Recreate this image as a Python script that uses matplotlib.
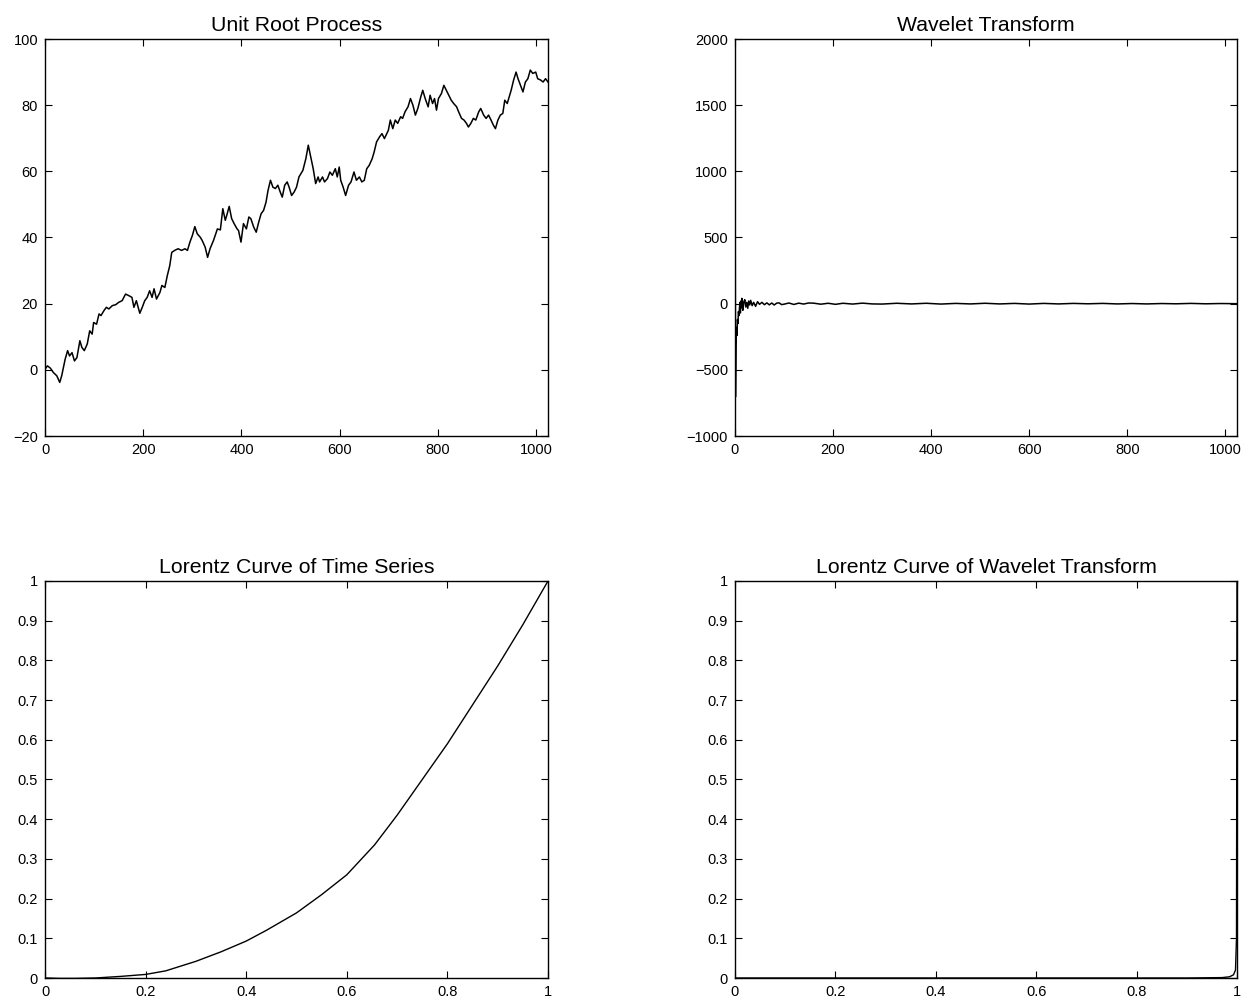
import matplotlib
matplotlib.use("Agg")
import matplotlib.pyplot as plt
from matplotlib.ticker import FormatStrFormatter, MultipleLocator

plt.rcParams['font.family'] = ['Liberation Sans', 'DejaVu Sans']

# Unit root process
ur_t = [0, 5, 11, 17, 24, 30, 34, 41, 46, 50, 55, 60, 65, 71, 75, 80, 86, 91, 96, 99,
        105, 110, 114, 120, 125, 130, 137, 144, 150, 157, 164, 171, 177, 181, 186, 193,
        198, 203, 208, 213, 218, 222, 227, 234, 238, 244, 249, 254, 258, 264, 271, 278,
        285, 290, 295, 300, 305, 310, 316, 320, 326, 331, 336, 343, 351, 357, 362, 367,
        370, 375, 380, 385, 391, 394, 399, 404, 410, 415, 419, 425, 430, 435, 440, 445,
        450, 454, 459, 464, 469, 474, 479, 483, 488, 493, 497, 502, 507, 512, 517, 525,
        531, 536, 541, 546, 551, 556, 559, 565, 569, 575, 580, 585, 591, 595, 599, 602,
        607, 612, 618, 623, 629, 634, 640, 645, 650, 655, 660, 666, 670, 675, 681, 686,
        691, 699, 703, 708, 713, 718, 724, 728, 733, 739, 744, 749, 754, 759, 765, 769,
        774, 780, 784, 789, 793, 797, 801, 807, 812, 817, 822, 827, 832, 838, 842, 848,
        853, 858, 862, 867, 872, 877, 883, 887, 893, 898, 903, 908, 913, 917, 922, 927,
        932, 936, 941, 945, 949, 954, 959, 963, 968, 973, 978, 983, 988, 993, 999, 1003,
        1009, 1014, 1019, 1024]
ur_val = [0.2, 1.2, 0.5, -0.8, -1.8, -3.8, -1.8, 3.2, 5.8, 4.2, 5.2, 2.7, 3.7, 8.8, 6.8, 5.8,
          7.8, 11.8, 10.8, 14.3, 13.8, 16.9, 16.4, 17.9, 18.9, 18.4, 19.4, 19.7, 20.4, 20.9,
          22.9, 22.4, 21.9, 18.9, 20.9, 17.1, 18.9, 20.9, 21.9, 23.9, 21.9, 24.5, 21.4, 23.4,
          25.5, 24.9, 28.5, 31.5, 35.5, 36.1, 36.6, 36.1, 36.6, 36.1, 38.6, 40.6, 43.3, 41.1,
          40.1, 39.1, 37.1, 34.0, 36.6, 39.1, 42.6, 42.3, 48.7, 45.2, 46.7, 49.4, 45.7, 44.2,
          42.6, 42.1, 38.6, 44.2, 42.6, 46.2, 45.7, 43.1, 41.6, 44.6, 47.2, 48.2, 50.7, 54.2,
          57.3, 55.2, 54.8, 55.8, 53.7, 52.2, 55.8, 56.8, 55.2, 52.7, 53.7, 55.2, 58.3, 60.3,
          63.8, 67.9, 64.3, 60.8, 56.3, 58.3, 56.8, 58.3, 56.8, 57.8, 59.8, 58.8, 60.8, 58.3,
          61.3, 57.3, 55.2, 52.7, 55.8, 56.8, 59.8, 57.3, 58.3, 56.8, 57.3, 60.8, 61.8, 63.8,
          65.8, 68.9, 70.4, 71.4, 69.9, 72.4, 75.5, 72.9, 75.5, 74.5, 76.5, 76.0, 78.0, 79.5,
          82.0, 80.0, 77.0, 79.0, 82.5, 84.5, 82.0, 79.5, 83.0, 80.5, 82.0, 78.5, 82.0, 83.5,
          86.0, 84.5, 83.0, 81.5, 80.5, 79.5, 78.0, 76.0, 75.5, 74.5, 73.4, 74.5, 76.0, 75.5,
          78.0, 79.0, 77.0, 76.0, 77.0, 75.5, 73.9, 72.9, 75.5, 77.0, 77.5, 81.5, 80.5, 82.5,
          84.5, 87.6, 90.0, 88.0, 86.0, 84.0, 87.0, 88.0, 90.6, 89.6, 90.0, 88.0, 87.6, 87.0,
          88.0, 87.0]

# Wavelet transform coefficients (sparse reading)
wt_idx = [0, 1, 2, 3, 4, 5, 6, 7, 8, 9, 10, 11, 12, 13, 14, 15, 16, 18, 20, 22, 24, 26,
          28, 30, 32, 35, 38, 42, 46, 50, 55, 60, 65, 70, 75, 80, 85, 90, 95, 100, 110,
          120, 130, 140, 150, 160, 175, 190, 205, 220, 240, 260, 280, 300, 330, 360, 390,
          420, 450, 480, 510, 540, 570, 600, 630, 660, 690, 720, 750, 780, 810, 840, 870,
          900, 930, 960, 990, 1023]
wt_val = [1670, -705, -310, -180, -240, -120, -150, -60, -90, -40, 10, -70, 20, -30, 40,
          -20, -50, 15, 30, -25, 10, -35, 20, -10, 25, -15, 10, -20, 15, -5, 10, -8, 6,
          -9, 5, -10, 4, 6, -7, -4, 5, -6, 4, -3, 5, 4, -4, 3, -5, 3, -3, 4, -2, -3, 3,
          -2, 3, -3, 2, -2, 3, -2, 2, -3, 2, -2, 2, -1, 2, -2, 1, -2, 1, -1, 2, -1, 1, 0]

# Lorentz curve of the time series
lc_x = [0.0, 0.03, 0.06, 0.1, 0.15, 0.2, 0.24, 0.3, 0.35, 0.4, 0.44, 0.5, 0.55, 0.6,
        0.655, 0.7, 0.75, 0.8, 0.85, 0.9, 0.95, 1.0]
lc_y = [0.0, -0.001, -0.001, 0.0, 0.004, 0.009, 0.018, 0.042, 0.066, 0.093, 0.12, 0.164,
        0.21, 0.26, 0.335, 0.41, 0.5, 0.59, 0.688, 0.786, 0.89, 1.0]

# Lorentz curve of the wavelet transform
lw_x = [0.0, 0.9, 0.97, 0.985, 0.993, 0.997, 0.999, 1.0]
lw_y = [0.0, 0.0, 0.001, 0.003, 0.008, 0.02, 0.1, 1.0]

W, H = 1249, 1005
fig = plt.figure(figsize=(W / 100, H / 100), dpi=100)

def px_axes(x0, x1, y0, y1):
    return fig.add_axes([x0 / W, 1 - y1 / H, (x1 - x0) / W, (y1 - y0) / H])

ax1 = px_axes(45, 548, 39, 436)
ax2 = px_axes(735, 1237, 39, 436)
ax3 = px_axes(45, 548, 581, 978)
ax4 = px_axes(735, 1237, 581, 978)

ax1.plot(ur_t, ur_val, color='black', lw=1.1)
ax1.set_xlim(0, 1024)
ax1.set_ylim(-20, 100)
ax1.xaxis.set_major_locator(MultipleLocator(200))
ax1.yaxis.set_major_locator(MultipleLocator(20))
ax1.set_title('Unit Root Process')

ax2.plot(wt_idx, wt_val, color='black', lw=1.1)
ax2.set_xlim(0, 1024)
ax2.set_ylim(-1000, 2000)
ax2.xaxis.set_major_locator(MultipleLocator(200))
ax2.yaxis.set_major_locator(MultipleLocator(500))
ax2.set_title('Wavelet Transform')

ax3.plot(lc_x, lc_y, color='black', lw=1.0)
ax3.set_title('Lorentz Curve of Time Series')

ax4.plot(lw_x, lw_y, color='black', lw=1.0)
ax4.set_title('Lorentz Curve of Wavelet Transform')

for ax in (ax3, ax4):
    ax.set_xlim(0, 1)
    ax.set_ylim(0, 1)
    ax.xaxis.set_major_locator(MultipleLocator(0.2))
    ax.yaxis.set_major_locator(MultipleLocator(0.1))
    ax.xaxis.set_major_formatter(FormatStrFormatter('%g'))
    ax.yaxis.set_major_formatter(FormatStrFormatter('%g'))

for ax in (ax1, ax2, ax3, ax4):
    ax.tick_params(direction='in', top=True, right=True, length=5, width=0.8,
                   labelsize=10.5, pad=5)
    for s in ax.spines.values():
        s.set_linewidth(1.0)
    ax.title.set_fontsize(15.3)

fig.savefig('out.png', dpi=100)
